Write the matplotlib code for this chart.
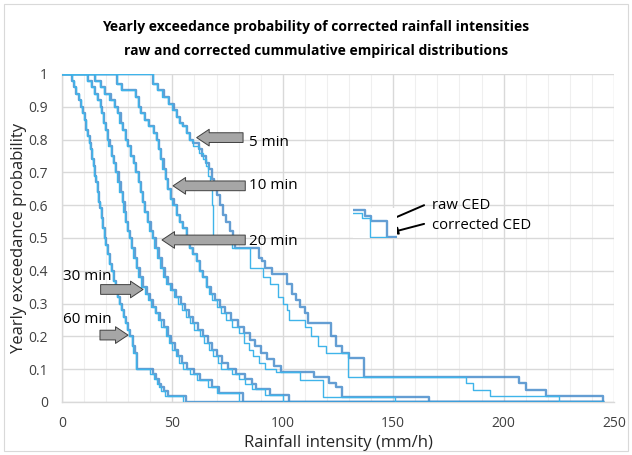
import matplotlib
matplotlib.use("Agg")
import matplotlib.pyplot as plt
from matplotlib.patches import Rectangle

plt.rcParams["font.family"] = ["Open Sans", "DejaVu Sans"]

# (intensity mm/h where the curve steps down, new exceedance probability)
steps_60_raw = [(0, 1), (4.5, 0.98), (5.5, 0.96), (6.5, 0.94), (7.5, 0.92), (8.5, 0.9), (9.2, 0.88), (10, 0.86),
                (10.8, 0.83), (11.5, 0.81), (12.2, 0.79), (12.8, 0.77), (13.5, 0.74), (14, 0.72), (14.6, 0.69),
                (15.2, 0.67), (15.8, 0.64), (16.4, 0.61), (17, 0.59), (17.6, 0.56), (18.3, 0.53), (19, 0.5),
                (19.7, 0.48), (20.4, 0.45), (21.2, 0.42), (22, 0.4), (23, 0.37), (24, 0.34), (24.8, 0.32),
                (25.6, 0.3), (26.5, 0.28), (27.5, 0.26), (28.5, 0.24), (29.5, 0.22), (30.5, 0.2), (31.5, 0.17),
                (32.3, 0.15), (33.5, 0.1), (40, 0.085), (41.5, 0.07), (43, 0.055), (44, 0.045), (45, 0.035),
                (46.5, 0.017), (55, 0), (245, 0)]
steps_60_cor = [(0, 1), (4.5, 0.98), (5.5, 0.96), (6.5, 0.94), (7.8, 0.92), (8.8, 0.9), (9.5, 0.88), (10.3, 0.86),
                (11, 0.83), (11.8, 0.81), (12.5, 0.79), (13.1, 0.77), (13.8, 0.74), (14.3, 0.72), (15, 0.69),
                (15.6, 0.67), (16.2, 0.64), (16.8, 0.61), (17.4, 0.59), (18, 0.56), (18.7, 0.53), (19.4, 0.5),
                (20.1, 0.48), (20.8, 0.45), (21.6, 0.42), (22.5, 0.4), (23.5, 0.37), (24.5, 0.34), (25.3, 0.32),
                (26.2, 0.3), (27, 0.28), (28, 0.26), (29, 0.24), (30, 0.22), (31, 0.2), (32, 0.17), (33, 0.15),
                (34, 0.1), (41, 0.085), (42.5, 0.07), (44, 0.055), (45, 0.045), (46, 0.035), (48, 0.017),
                (56, 0), (245, 0)]

steps_30_raw = [(0, 1), (11.5, 0.98), (13, 0.96), (14.5, 0.94), (16, 0.92), (17, 0.9), (17.8, 0.88), (18.6, 0.85),
                (19.4, 0.83), (20.2, 0.8), (21, 0.78), (22, 0.75), (23, 0.73), (24, 0.7), (25, 0.67), (26, 0.64),
                (27, 0.61), (27.8, 0.58), (28.6, 0.55), (29.4, 0.52), (30.2, 0.5), (31.2, 0.47), (32.2, 0.44),
                (33.3, 0.41), (34.5, 0.38), (36, 0.35), (37.5, 0.33), (39, 0.31), (40.5, 0.29), (42, 0.27),
                (43.5, 0.25), (45, 0.23), (47, 0.2), (48.5, 0.18), (50, 0.16), (51.5, 0.14), (53, 0.12),
                (55, 0.1), (58, 0.085), (61, 0.067), (66, 0.045), (70, 0.027), (80, 0), (245, 0)]
steps_30_cor = [(0, 1), (12, 0.98), (13.5, 0.96), (15, 0.94), (16.5, 0.92), (17.5, 0.9), (18.3, 0.88), (19.1, 0.85),
                (19.9, 0.83), (20.7, 0.8), (21.6, 0.78), (22.6, 0.75), (23.6, 0.73), (24.6, 0.7), (25.6, 0.67),
                (26.6, 0.64), (27.6, 0.61), (28.4, 0.58), (29.2, 0.55), (30, 0.52), (30.8, 0.5), (31.8, 0.47),
                (32.9, 0.44), (34, 0.41), (35.2, 0.38), (36.8, 0.35), (38.3, 0.33), (39.8, 0.31), (41.3, 0.29),
                (42.8, 0.27), (44.3, 0.25), (46, 0.23), (48, 0.2), (49.5, 0.18), (51, 0.16), (52.5, 0.14),
                (54.5, 0.12), (56.5, 0.1), (60, 0.085), (62.5, 0.067), (68, 0.045), (71, 0.027), (82, 0), (245, 0)]

steps_20_raw = [(0, 1), (15, 0.98), (17, 0.96), (19, 0.94), (21.5, 0.92), (23.5, 0.9), (24.8, 0.88), (26, 0.85),
                (27.2, 0.83), (28.4, 0.8), (29.6, 0.78), (30.8, 0.75), (32, 0.73), (33.2, 0.7), (34.2, 0.67),
                (35.2, 0.64), (36.2, 0.61), (37.2, 0.58), (38.3, 0.55), (39.5, 0.52), (40.6, 0.5), (41.8, 0.47),
                (43, 0.44), (44.3, 0.41), (45.6, 0.38), (47.2, 0.36), (49, 0.34), (50.5, 0.32), (52.5, 0.3),
                (54.5, 0.28), (56, 0.26), (58, 0.24), (60, 0.22), (62.5, 0.2), (64.5, 0.18), (66.5, 0.16),
                (68.5, 0.14), (70.5, 0.12), (72, 0.1), (77, 0.085), (80, 0.07), (83, 0.055), (86, 0.04),
                (92, 0.02), (100, 0), (245, 0)]
steps_20_cor = [(0, 1), (15, 0.98), (17.5, 0.96), (19.5, 0.94), (22, 0.92), (24, 0.9), (25.3, 0.88), (26.5, 0.85),
                (27.7, 0.83), (28.9, 0.8), (30.1, 0.78), (31.3, 0.75), (32.5, 0.73), (33.7, 0.7), (34.8, 0.67),
                (35.8, 0.64), (36.8, 0.61), (37.8, 0.58), (39, 0.55), (40.2, 0.52), (41.4, 0.5), (42.6, 0.47),
                (43.8, 0.44), (45.2, 0.41), (46.5, 0.38), (48.2, 0.36), (50, 0.34), (51.7, 0.32), (53.7, 0.3),
                (55.7, 0.28), (57.3, 0.26), (59.3, 0.24), (61.5, 0.22), (64, 0.2), (66, 0.18), (68, 0.16),
                (70, 0.14), (72.5, 0.12), (75, 0.1), (79, 0.085), (83, 0.07), (86, 0.055), (88, 0.04),
                (94, 0.02), (103, 0), (245, 0)]

steps_10_raw = [(0, 1), (25, 0.97), (26.5, 0.95), (33, 0.93), (34.2, 0.9), (35.5, 0.88), (37, 0.86), (39, 0.84),
                (41, 0.82), (42.5, 0.8), (43.5, 0.77), (44.5, 0.74), (45.5, 0.71), (46.5, 0.68), (47.5, 0.65),
                (48.7, 0.62), (50, 0.6), (51.5, 0.57), (53, 0.55), (54.5, 0.53), (56, 0.5), (57.5, 0.47),
                (59, 0.45), (60.5, 0.43), (62, 0.4), (63.5, 0.38), (65, 0.35), (66.5, 0.33), (68, 0.31),
                (70, 0.29), (72, 0.27), (74.5, 0.25), (77, 0.23), (80, 0.21), (82.5, 0.18), (84.5, 0.16),
                (86.5, 0.14), (89, 0.12), (92, 0.1), (97, 0.09), (108, 0.067), (118, 0.016), (151, 0), (245, 0)]
steps_10_cor = [(0, 1), (25, 0.97), (27, 0.95), (33.5, 0.93), (34.8, 0.9), (36, 0.88), (37.5, 0.86), (39.5, 0.84),
                (41.5, 0.82), (43, 0.8), (44, 0.77), (45, 0.74), (46, 0.71), (47, 0.68), (48, 0.65), (49.2, 0.62),
                (50.5, 0.6), (52, 0.57), (53.5, 0.55), (55, 0.53), (56.5, 0.5), (58, 0.47), (59.5, 0.45),
                (61, 0.43), (62.5, 0.4), (64, 0.38), (65.7, 0.35), (67.5, 0.33), (69.5, 0.31), (71.5, 0.29),
                (74, 0.27), (76.5, 0.25), (79.5, 0.23), (82.5, 0.21), (85, 0.19), (87.5, 0.17), (90, 0.15),
                (93, 0.13), (96, 0.11), (99, 0.09), (114, 0.075), (121, 0.057), (124, 0.047), (127, 0.016),
                (166, 0), (245, 0)]

steps_5_raw = [(0, 1), (41, 0.97), (43, 0.95), (45.5, 0.93), (48, 0.91), (50, 0.89), (51.5, 0.87), (53, 0.85),
               (54.5, 0.84), (56, 0.82), (57.5, 0.8), (59.5, 0.78), (62, 0.76), (64, 0.74), (65, 0.72),
               (66, 0.69), (67, 0.65), (67.8, 0.6), (68.2, 0.5), (77, 0.47), (85, 0.41), (91, 0.38), (94, 0.36),
               (98, 0.32), (100, 0.3), (102, 0.28), (103, 0.25), (110, 0.23), (113, 0.2), (116, 0.17),
               (119.5, 0.149), (129.5, 0.077), (183, 0.057), (186, 0.037), (194, 0.019), (225, 0), (245, 0)]
steps_5_cor = [(0, 1), (41, 0.97), (43.5, 0.95), (46, 0.93), (48.5, 0.91), (50.5, 0.89), (52, 0.87), (53.5, 0.85),
               (55, 0.84), (56.5, 0.82), (58, 0.8), (59.5, 0.79), (62, 0.77), (63.5, 0.75), (65, 0.73),
               (66.5, 0.71), (68, 0.68), (69, 0.66), (70, 0.63), (71.5, 0.6), (73, 0.57), (74.5, 0.55),
               (76, 0.52), (77.5, 0.5), (78.5, 0.47), (89, 0.44), (90.5, 0.43), (92, 0.41), (95, 0.39),
               (102, 0.36), (104, 0.33), (106, 0.31), (108, 0.29), (110, 0.27), (111.5, 0.24), (122, 0.2),
               (124, 0.17), (127, 0.15), (130, 0.134), (137, 0.075), (207, 0.057), (210, 0.038), (219, 0.019),
               (245, 0)]

raw_curves = [steps_5_raw, steps_10_raw, steps_20_raw, steps_30_raw, steps_60_raw]
cor_curves = [steps_5_cor, steps_10_cor, steps_20_cor, steps_30_cor, steps_60_cor]

RAW_C = "#3fb4ea"
COR_C = "#3d86c9"

fig = plt.figure(figsize=(6.32, 4.55), dpi=100)
ax = fig.add_axes([0.0981, 0.1165, 0.8734, 0.7209])

for steps in cor_curves:
    xs, ps = zip(*steps)
    ax.plot(xs, ps, drawstyle="steps-post", color=COR_C, lw=1.7, alpha=0.8, zorder=3)
for steps in raw_curves:
    xs, ps = zip(*steps)
    ax.plot(xs, ps, drawstyle="steps-post", color=RAW_C, lw=1.0, zorder=4)

ax.set_xlim(0, 250)
ax.set_ylim(0, 1)
ax.set_xticks(range(0, 251, 50))
ax.set_xticks(range(0, 251, 10), minor=True)
ax.set_yticks([i / 10 for i in range(11)])
ax.set_yticklabels(["0"] + [f"{i / 10:g}" for i in range(1, 10)] + ["1"])
ax.grid(which="major", color="#d9d9d9", lw=1.0)
ax.grid(which="minor", axis="x", color="#efefef", lw=0.8)
ax.set_axisbelow(True)
ax.tick_params(which="both", length=0, labelsize=10, colors="#404040")
ax.tick_params(axis="y", pad=10)
ax.tick_params(axis="x", pad=10)
for s in ("top", "right"):
    ax.spines[s].set_visible(False)
for s in ("left", "bottom"):
    ax.spines[s].set_color("#d9d9d9")
    ax.spines[s].set_linewidth(1.0)

ax.set_xlabel("Rainfall intensity (mm/h)", fontsize=12, color="#262626", labelpad=3)
ax.set_ylabel("Yearly exceedance probability", fontsize=12, color="#262626", labelpad=1)
fig.text(0.5, 0.94, "Yearly exceedance probability of corrected rainfall intensities",
         ha="center", va="center", fontsize=10, fontweight="bold")
fig.text(0.5, 0.889, "raw and corrected cummulative empirical distributions",
         ha="center", va="center", fontsize=10, fontweight="bold")

# grey block arrows pointing at each duration
block = dict(arrowstyle="simple,head_length=0.9,head_width=1.2,tail_width=0.7",
             fc="#a6a6a6", ec="#404040", lw=0.7, shrinkA=0, shrinkB=0, mutation_scale=10)
arrows = [((82, 0.806), (61, 0.806), "5 min", (84.5, 0.79)),
          ((83, 0.659), (50.3, 0.659), "10 min", (84.5, 0.659)),
          ((83, 0.494), (45.3, 0.494), "20 min", (84.5, 0.49)),
          ((17.5, 0.343), (36.7, 0.343), "30 min", (0.6, 0.384)),
          ((17.2, 0.204), (29.9, 0.204), "60 min", (0.6, 0.25))]
for tail, tip, label, pos in arrows:
    ax.annotate("", xy=tip, xytext=tail, arrowprops=block, zorder=6)
    ax.text(pos[0], pos[1], label, ha="left", va="center", fontsize=11, zorder=6)

# little legend sketch
ins = fig.add_axes([353 / 632, 1 - 238 / 455, 44 / 632, 30 / 455])
ins.set_xlim(0, 1)
ins.set_ylim(0, 1)
ins.axis("off")
ins.add_patch(Rectangle((0, 0), 1, 1, color="white", zorder=0))
ins.plot([0, 0.27, 0.27, 0.42, 0.42, 0.77, 0.77, 1.0],
         [0.93, 0.93, 0.74, 0.74, 0.58, 0.58, 0.04, 0.04], color=COR_C, lw=1.7, alpha=0.8)
ins.plot([0, 0.2, 0.2, 0.38, 0.38, 0.77],
         [0.84, 0.84, 0.68, 0.68, 0.04, 0.04], color=RAW_C, lw=1.0)

black = dict(arrowstyle="-|>,head_length=0.5,head_width=0.22", color="black", lw=1.4,
             shrinkA=0, shrinkB=0, mutation_scale=10)
ax.annotate("", xy=(141.3, 0.534), xytext=(164, 0.6), arrowprops=black, zorder=7)
ax.annotate("", xy=(148.1, 0.515), xytext=(164, 0.543), arrowprops=black, zorder=7)
ax.text(167.6, 0.6, "raw CED", ha="left", va="center", fontsize=10.7)
ax.text(167.6, 0.537, "corrected CED", ha="left", va="center", fontsize=10.7)

fig.add_artist(Rectangle((4 / 632, 4 / 455), 624 / 632, 447 / 455, transform=fig.transFigure,
                         fill=False, ec="#d9d9d9", lw=0.8))

fig.savefig("out.png", dpi=100)
